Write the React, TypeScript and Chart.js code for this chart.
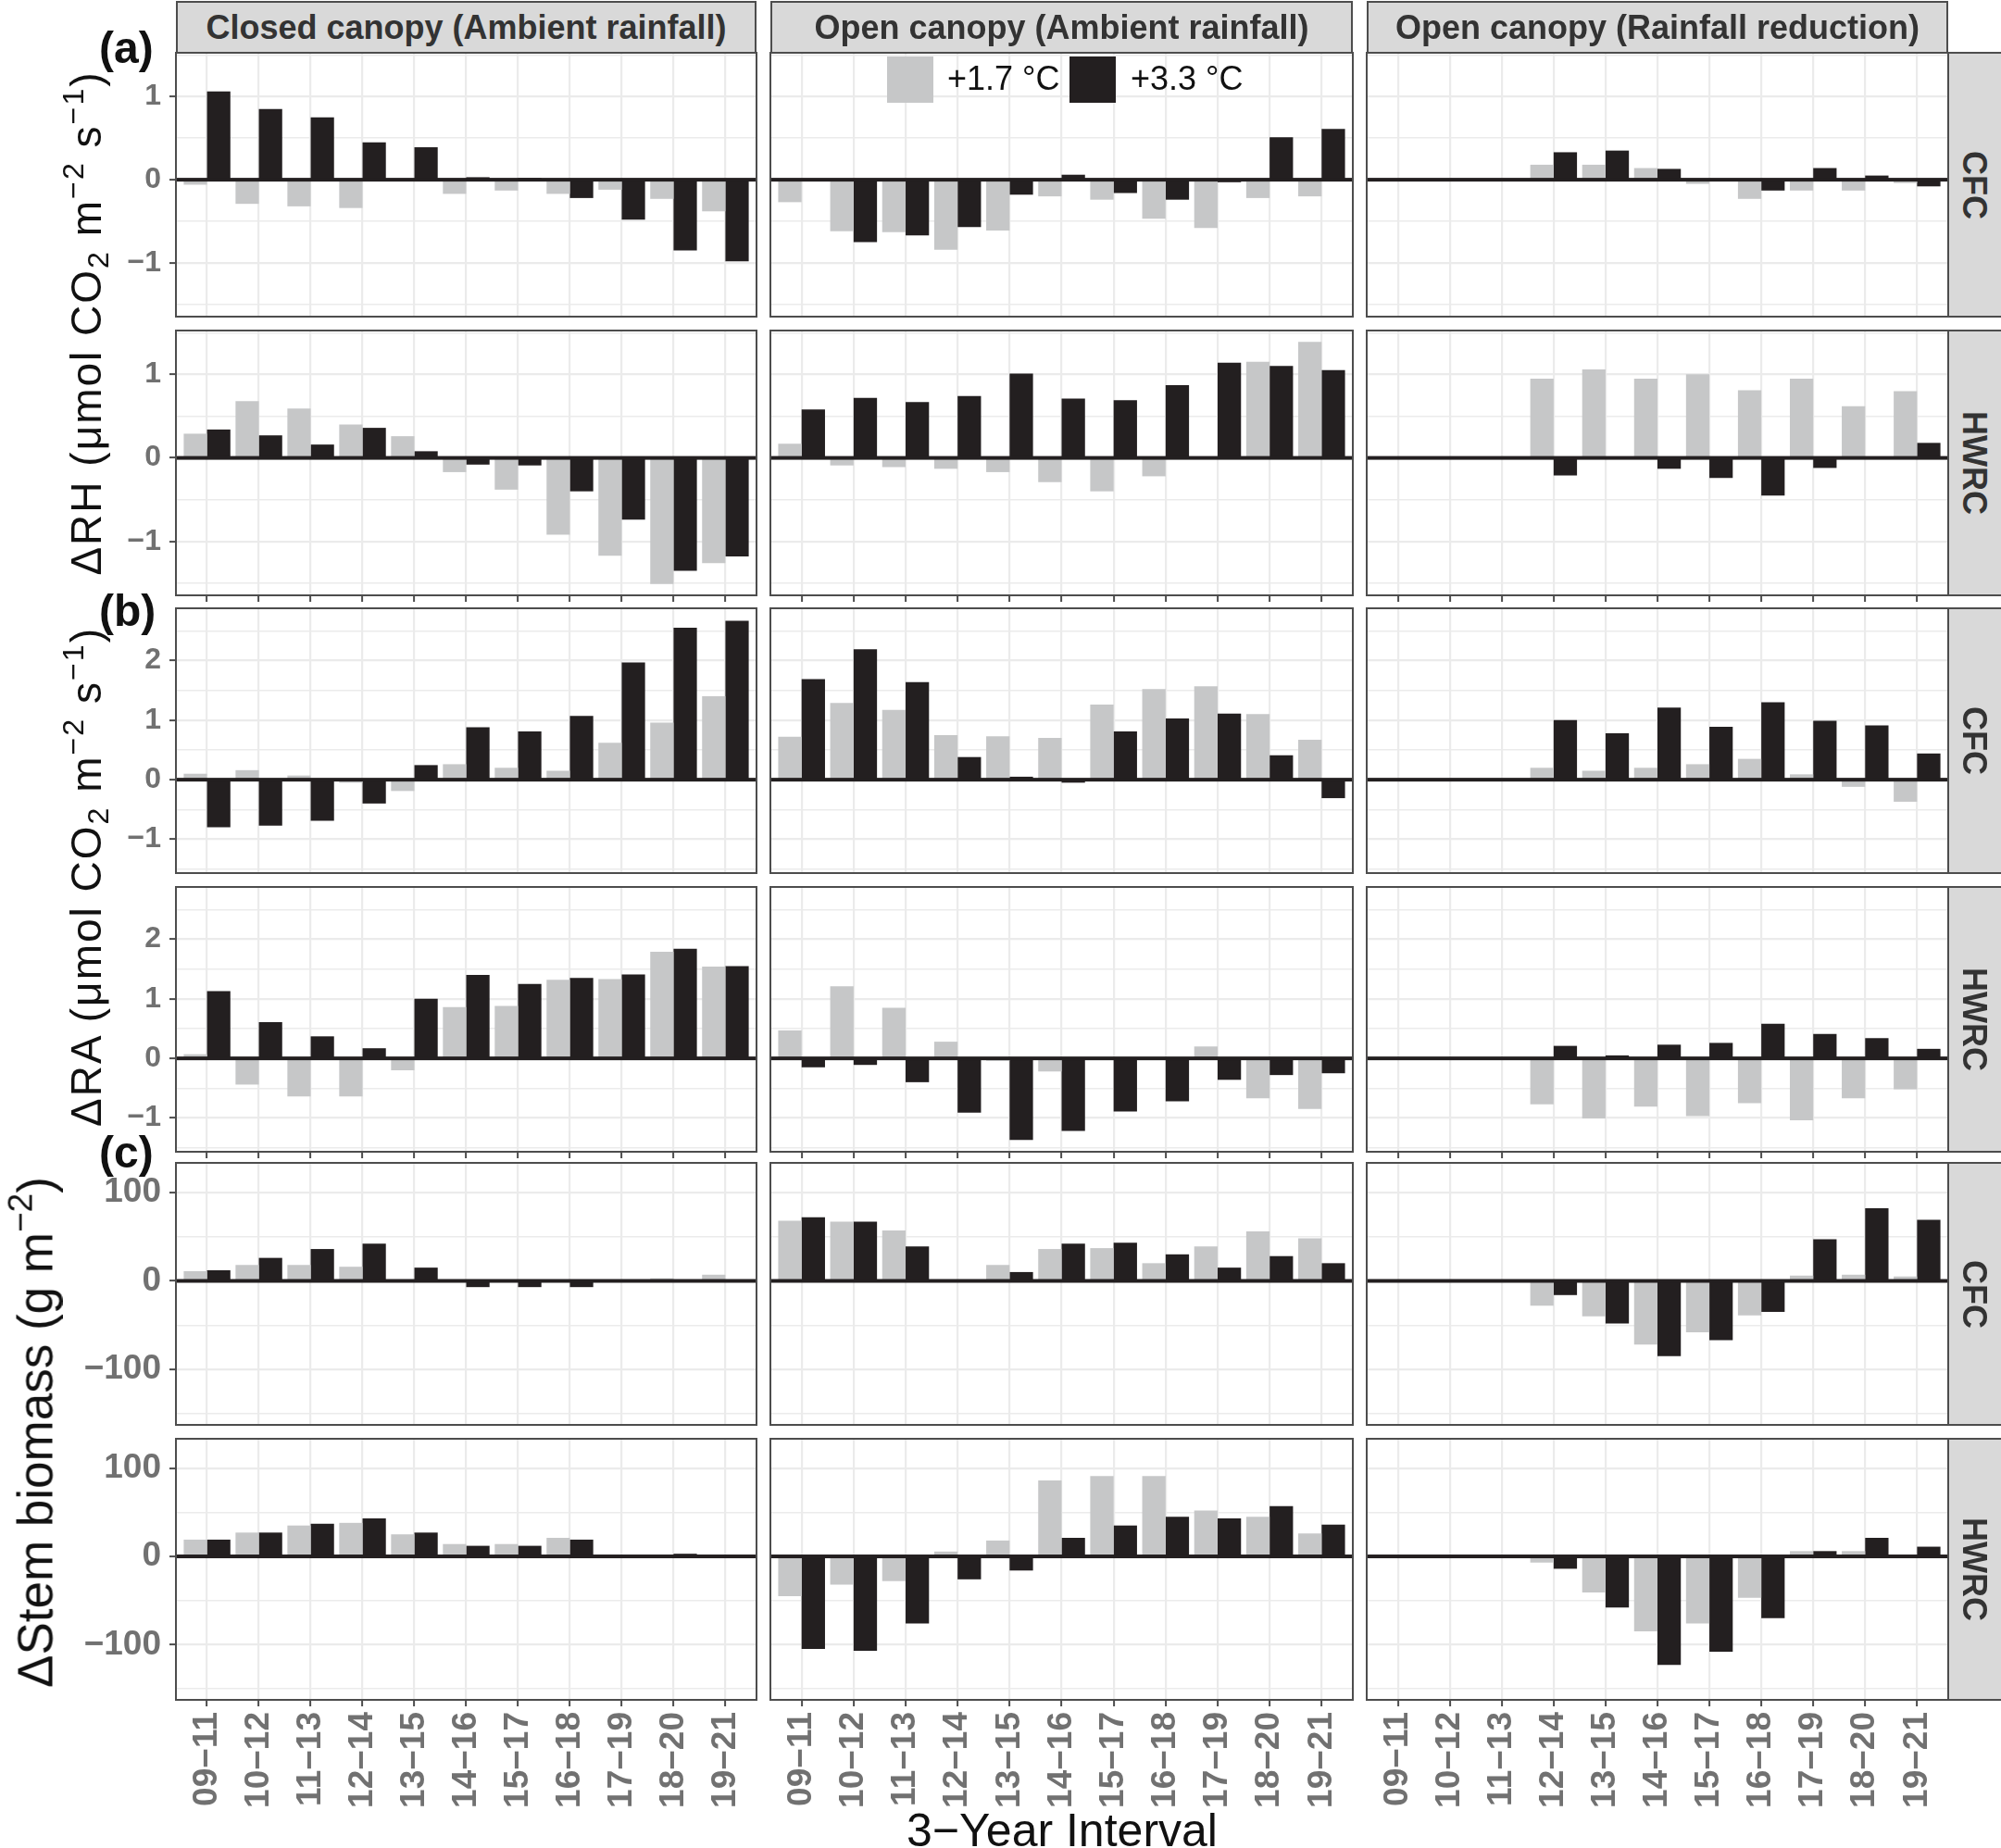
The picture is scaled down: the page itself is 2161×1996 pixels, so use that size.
import React, { useEffect, useRef } from "react";
import { Chart, registerables } from "chart.js";

Chart.register(...registerables);

const FONT = "'Liberation Sans', Arial, Helvetica, sans-serif";
const GREY = "#c6c7c8";
const BLACK = "#231f20";
const GRID = "#ebebeb";
const FRAME = "#4d4d4d";
const LABEL = "#717171";

// ---------- categories, labels ----------
const intervals = ["09−11", "10−12", "11−13", "12−14", "13−15", "14−16", "15−17", "16−18", "17−19", "18−20", "19−21"];
const columnTitles = ["Closed canopy (Ambient rainfall)", "Open canopy (Ambient rainfall)", "Open canopy (Rainfall reduction)"];
const rowStrips = ["CFC", "HWRC"];
const legendLabels = ["+1.7 °C", "+3.3 °C"];
const panelLetters = ["(a)", "(b)", "(c)"];
const xAxisTitle = "3−Year Interval";

// ---------- (a) ΔRH ----------
const rhCfcClosed17 = [-0.06, -0.29, -0.32, -0.34, -0.01, -0.17, -0.13, -0.17, -0.12, -0.23, -0.38];
const rhCfcClosed33 = [1.06, 0.85, 0.75, 0.45, 0.39, 0.03, 0.02, -0.22, -0.48, -0.85, -0.98];
const rhCfcOpen17 = [-0.27, -0.62, -0.63, -0.84, -0.61, -0.2, -0.24, -0.47, -0.58, -0.22, -0.2];
const rhCfcOpen33 = [-0.02, -0.75, -0.67, -0.57, -0.18, 0.06, -0.16, -0.24, -0.03, 0.51, 0.61];
const rhCfcReduced17 = [null, null, null, 0.18, 0.18, 0.14, -0.05, -0.23, -0.13, -0.13, -0.04];
const rhCfcReduced33 = [null, null, null, 0.33, 0.35, 0.13, 0.01, -0.13, 0.14, 0.05, -0.08];

const rhHwrcClosed17 = [0.29, 0.68, 0.59, 0.4, 0.26, -0.17, -0.38, -0.92, -1.17, -1.51, -1.26];
const rhHwrcClosed33 = [0.34, 0.27, 0.16, 0.36, 0.08, -0.08, -0.09, -0.4, -0.74, -1.35, -1.18];
const rhHwrcOpen17 = [0.17, -0.09, -0.11, -0.13, -0.17, -0.29, -0.4, -0.22, -0.01, 1.15, 1.39];
const rhHwrcOpen33 = [0.58, 0.72, 0.67, 0.74, 1.01, 0.71, 0.69, 0.87, 1.14, 1.1, 1.05];
const rhHwrcReduced17 = [null, null, null, 0.95, 1.06, 0.95, 1.0, 0.81, 0.95, 0.62, 0.8];
const rhHwrcReduced33 = [null, null, null, -0.21, -0.01, -0.13, -0.24, -0.45, -0.12, 0.0, 0.18];

// ---------- (b) ΔRA ----------
const raCfcClosed17 = [0.1, 0.16, 0.07, -0.05, -0.19, 0.26, 0.2, 0.15, 0.62, 0.96, 1.4];
const raCfcClosed33 = [-0.8, -0.77, -0.69, -0.4, 0.245, 0.88, 0.81, 1.07, 1.97, 2.55, 2.67];
const raCfcOpen17 = [0.72, 1.29, 1.17, 0.75, 0.73, 0.7, 1.26, 1.52, 1.57, 1.1, 0.67];
const raCfcOpen33 = [1.69, 2.19, 1.64, 0.38, 0.05, -0.05, 0.81, 1.03, 1.11, 0.41, -0.31];
const raCfcReduced17 = [null, null, null, 0.2, 0.15, 0.2, 0.26, 0.35, 0.09, -0.12, -0.37];
const raCfcReduced33 = [null, null, null, 1.0, 0.78, 1.21, 0.89, 1.3, 0.99, 0.91, 0.44];

const raHwrcClosed17 = [0.07, -0.44, -0.64, -0.64, -0.2, 0.86, 0.88, 1.32, 1.33, 1.79, 1.54];
const raHwrcClosed33 = [1.13, 0.61, 0.37, 0.17, 1.0, 1.4, 1.25, 1.35, 1.41, 1.84, 1.55];
const raHwrcOpen17 = [0.47, 1.21, 0.85, 0.28, -0.04, -0.22, 0.01, 0.01, 0.2, -0.67, -0.85];
const raHwrcOpen33 = [-0.15, -0.11, -0.4, -0.91, -1.37, -1.22, -0.89, -0.72, -0.36, -0.28, -0.25];
const raHwrcReduced17 = [null, null, null, -0.77, -1.01, -0.81, -0.97, -0.75, -1.04, -0.67, -0.52];
const raHwrcReduced33 = [null, null, null, 0.21, 0.05, 0.23, 0.26, 0.58, 0.41, 0.34, 0.16];

// ---------- (c) ΔStem biomass ----------
const stemCfcClosed17 = [11, 18, 18, 16, 1, -1, -1, -1, 0.5, 3, 7];
const stemCfcClosed33 = [12, 26, 36, 42, 15, -7, -7, -7, 1, 1, 1];
const stemCfcOpen17 = [68, 67, 57, 1, 18, 36, 37, 20, 39, 56, 48];
const stemCfcOpen33 = [72, 67, 39, 1.5, 10, 42, 43, 30, 15, 28, 20];
const stemCfcReduced17 = [null, null, null, -28, -40, -72, -58, -39, 6, 7, 5];
const stemCfcReduced33 = [null, null, null, -16, -48, -85, -67, -35, 47, 82, 69];

const stemHwrcClosed17 = [19, 27, 35, 38, 25, 14, 14, 21, 0.5, -1, -1];
const stemHwrcClosed33 = [19, 27, 37, 43, 27, 12, 12, 19, 1, 3, 1];
const stemHwrcOpen17 = [-45, -32, -28, 5.5, 18, 86, 91, 91, 52, 45, 26];
const stemHwrcOpen33 = [-105, -107, -76, -26, -16, 21, 35, 45, 43, 57, 36];
const stemHwrcReduced17 = [null, null, null, -7, -41, -85, -76, -47, 6, 6, 0.5];
const stemHwrcReduced33 = [null, null, null, -14, -58, -123, -108, -70, 6, 21, 11];

// ---------- y axes per block ----------
const rhRange = [-1.645, 1.525];
const rhGridValues = [-1.5, -1, -0.5, 0, 0.5, 1, 1.5];
const rhMajorStep = 1;
const raRange = [-1.568, 2.878];
const raGridValues = [-1.5, -1, -0.5, 0, 0.5, 1, 1.5, 2, 2.5];
const raMajorStep = 1;
const stemRange = [-162.6, 133.3];
const stemGridValues = [-150, -100, -50, 0, 50, 100];
const stemMajorStep = 100;

const blockAxes = [
  { range: rhRange, grid: rhGridValues, step: rhMajorStep, font: 32 },
  { range: raRange, grid: raGridValues, step: raMajorStep, font: 32 },
  { range: stemRange, grid: stemGridValues, step: stemMajorStep, font: 37 },
];

const panelSeries = [
  [[rhCfcClosed17, rhCfcClosed33], [rhCfcOpen17, rhCfcOpen33], [rhCfcReduced17, rhCfcReduced33]],
  [[rhHwrcClosed17, rhHwrcClosed33], [rhHwrcOpen17, rhHwrcOpen33], [rhHwrcReduced17, rhHwrcReduced33]],
  [[raCfcClosed17, raCfcClosed33], [raCfcOpen17, raCfcOpen33], [raCfcReduced17, raCfcReduced33]],
  [[raHwrcClosed17, raHwrcClosed33], [raHwrcOpen17, raHwrcOpen33], [raHwrcReduced17, raHwrcReduced33]],
  [[stemCfcClosed17, stemCfcClosed33], [stemCfcOpen17, stemCfcOpen33], [stemCfcReduced17, stemCfcReduced33]],
  [[stemHwrcClosed17, stemHwrcClosed33], [stemHwrcOpen17, stemHwrcOpen33], [stemHwrcReduced17, stemHwrcReduced33]],
];

// ---------- layout ----------
const colLeft = [190, 832, 1476];
const colRight = [817, 1461, 2104];
const rowTop = [57, 357, 657, 958, 1256, 1554];
const rowBottom = [342, 643, 943, 1244, 1539, 1836];
const PAD = 6;
const Y_AXIS_W = 140;
const X_LABEL_H = 150;

const fmt = (v: number) => (v < 0 ? "−" + Math.abs(v) : String(v));
const isMajor = (v: number, step: number) => Math.abs(v / step - Math.round(v / step)) < 1e-6;

const panelDecor = {
  id: "panelDecor",
  afterDatasetsDraw(chart: any) {
    const { ctx, chartArea: a, scales } = chart;
    const y0 = scales.y.getPixelForValue(0);
    ctx.save();
    ctx.fillStyle = BLACK;
    ctx.fillRect(a.left, y0 - 2, a.right - a.left, 4);
    ctx.strokeStyle = FRAME;
    ctx.lineWidth = 2;
    ctx.strokeRect(a.left, a.top, a.right - a.left, a.bottom - a.top);
    ctx.restore();
  },
};

function Panel({ row, col }: { row: number; col: number }) {
  const ref = useRef<HTMLCanvasElement>(null);
  const block = Math.floor(row / 2);
  const isLeft = col === 0;
  const bottomOfBlock = row % 2 === 1;
  const isLast = row === 5;
  const pw = colRight[col] - colLeft[col];
  const ph = rowBottom[row] - rowTop[row];
  const yW = isLeft ? Y_AXIS_W : 0;
  const padL = isLeft ? 0 : PAD;
  const xH = isLast ? X_LABEL_H : bottomOfBlock ? 10 : 0;
  const padB = isLast ? 0 : PAD;
  const W = padL + yW + pw + PAD;
  const H = PAD + ph + xH + padB;
  const left = colLeft[col] - yW - padL;
  const top = rowTop[row] - PAD;

  useEffect(() => {
    const axis = blockAxes[block];
    const [g, k] = panelSeries[row][col];
    const chart = new Chart(ref.current as HTMLCanvasElement, {
      type: "bar",
      data: {
        datasets: [
          {
            label: legendLabels[0],
            data: g.map((v, i) => ({ x: i + 1, y: v })) as any,
            backgroundColor: GREY,
            borderWidth: 0,
            categoryPercentage: 0.9,
            barPercentage: 1.0,
          },
          {
            label: legendLabels[1],
            data: k.map((v, i) => ({ x: i + 1, y: v })) as any,
            backgroundColor: BLACK,
            borderWidth: 0,
            categoryPercentage: 0.9,
            barPercentage: 1.0,
          },
        ],
      },
      options: {
        animation: false,
        responsive: false,
        maintainAspectRatio: false,
        layout: { padding: { left: padL, right: PAD, top: PAD, bottom: padB } },
        plugins: { legend: { display: false }, tooltip: { enabled: false } },
        scales: {
          x: {
            type: "linear",
            min: 0.4,
            max: 11.6,
            bounds: "data",
            offset: false,
            afterBuildTicks: (s: any) => {
              s.ticks = intervals.map((_, i) => ({ value: i + 1 }));
            },
            afterFit: (s: any) => {
              s.height = xH;
              s.paddingLeft = 0;
              s.paddingRight = 0;
              s.paddingTop = 0;
              s.paddingBottom = 0;
            },
            border: { display: false },
            grid: {
              offset: false,
              color: GRID,
              lineWidth: 2.2,
              drawTicks: bottomOfBlock,
              tickLength: 7,
              tickColor: FRAME,
              tickWidth: 2,
            },
            ticks: {
              display: isLast,
              autoSkip: false,
              minRotation: 90,
              maxRotation: 90,
              padding: 6,
              color: LABEL,
              font: { family: FONT, weight: "bold", size: 37 },
              callback: (v: any) => intervals[Math.round(Number(v)) - 1] ?? "",
            },
          } as any,
          y: {
            type: "linear",
            min: axis.range[0],
            max: axis.range[1],
            bounds: "data",
            afterBuildTicks: (s: any) => {
              s.ticks = axis.grid.map((v) => ({ value: v }));
            },
            afterFit: (s: any) => {
              s.width = yW;
              s.paddingLeft = 0;
              s.paddingRight = 0;
              s.paddingTop = 0;
              s.paddingBottom = 0;
            },
            border: { display: false },
            grid: {
              color: GRID,
              lineWidth: (c: any) => (c.tick && isMajor(c.tick.value, axis.step) ? 2.2 : 1.4),
              drawTicks: isLeft,
              tickLength: 7,
              tickColor: (c: any) => (c.tick && isMajor(c.tick.value, axis.step) ? FRAME : "rgba(0,0,0,0)"),
              tickWidth: 2,
            },
            ticks: {
              display: isLeft,
              autoSkip: false,
              padding: 9,
              color: LABEL,
              font: { family: FONT, weight: "bold", size: axis.font },
              callback: (v: any) => (isMajor(Number(v), axis.step) ? fmt(Number(v)) : ""),
            },
          } as any,
        },
      },
      plugins: [panelDecor],
    });
    return () => chart.destroy();
  }, []);

  return (
    <canvas
      ref={ref}
      width={W}
      height={H}
      style={{ position: "absolute", left, top, width: W, height: H }}
    />
  );
}

const supStyle: React.CSSProperties = { fontSize: "0.7em", verticalAlign: "0.6em", lineHeight: 0 };
const subStyle: React.CSSProperties = { fontSize: "0.7em", verticalAlign: "-0.25em", lineHeight: 0 };

function RotatedTitle({ cx, cy, size, spacing, children }: { cx: number; cy: number; size: number; spacing: number; children: any }) {
  return (
    <div
      style={{
        position: "absolute",
        left: cx,
        top: cy,
        transform: "translate(-50%, -50%) rotate(-90deg)",
        whiteSpace: "nowrap",
        fontSize: size,
        lineHeight: `${size}px`,
        letterSpacing: spacing,
        color: "#111",
      }}
    >
      {children}
    </div>
  );
}

export default function App() {
  const cells: any[] = [];
  for (let r = 0; r < 6; r++) for (let c = 0; c < 3; c++) cells.push(<Panel key={`${r}-${c}`} row={r} col={c} />);
  const fluxUnit = (
    <>
      (μmol CO<span style={subStyle}>2</span> m<span style={supStyle}>−2</span> s<span style={supStyle}>−1</span>)
    </>
  );
  return (
    <div
      style={{
        position: "absolute",
        left: 0,
        top: 0,
        width: 2161,
        height: 1996,
        overflow: "hidden",
        background: "#fff",
        fontFamily: FONT,
      }}
    >
      {cells}
      {columnTitles.map((t, c) => (
        <div
          key={t}
          style={{
            position: "absolute",
            left: colLeft[c],
            top: 1,
            width: colRight[c] - colLeft[c],
            height: 57,
            boxSizing: "border-box",
            border: `2px solid ${FRAME}`,
            background: "#d9d9d9",
            display: "flex",
            alignItems: "center",
            justifyContent: "center",
            fontWeight: "bold",
            fontSize: 36,
            lineHeight: "36px",
            color: "#333",
            whiteSpace: "nowrap",
          }}
        >
          {t}
        </div>
      ))}
      {rowTop.map((t, r) => (
        <div
          key={"s" + r}
          style={{
            position: "absolute",
            left: 2103,
            top: t - 1,
            width: 60,
            height: rowBottom[r] - t + 2,
            boxSizing: "border-box",
            border: `2px solid ${FRAME}`,
            background: "#d9d9d9",
            display: "flex",
            alignItems: "center",
            justifyContent: "center",
            fontWeight: "bold",
            fontSize: 36,
            color: "#333",
          }}
        >
          <span style={{ display: "inline-block", transform: "rotate(90deg)", whiteSpace: "nowrap", lineHeight: "36px", marginRight: 3 }}>
            {rowStrips[r % 2]}
          </span>
        </div>
      ))}
      {/* legend */}
      <div style={{ position: "absolute", left: 958, top: 61, width: 50, height: 50, background: GREY }} />
      <div style={{ position: "absolute", left: 1023, top: 67, fontSize: 36, lineHeight: "36px", color: "#111", whiteSpace: "nowrap" }}>
        {legendLabels[0]}
      </div>
      <div style={{ position: "absolute", left: 1155, top: 61, width: 50, height: 50, background: BLACK }} />
      <div style={{ position: "absolute", left: 1221, top: 67, fontSize: 36, lineHeight: "36px", color: "#111", whiteSpace: "nowrap" }}>
        {legendLabels[1]}
      </div>
      {/* y titles */}
      <RotatedTitle cx={93} cy={349} size={46} spacing={2}>
        ΔRH {fluxUnit}
      </RotatedTitle>
      <RotatedTitle cx={93} cy={947} size={46} spacing={2}>
        ΔRA {fluxUnit}
      </RotatedTitle>
      <RotatedTitle cx={38} cy={1547} size={53} spacing={0}>
        ΔStem biomass (g m<span style={supStyle}>−2</span>)
      </RotatedTitle>
      {/* panel letters */}
      {[28, 636, 1221].map((t, i) => (
        <div
          key={"l" + i}
          style={{ position: "absolute", left: 107, top: t, fontSize: 48, lineHeight: "48px", fontWeight: "bold", color: "#111" }}
        >
          {panelLetters[i]}
        </div>
      ))}
      <div
        style={{
          position: "absolute",
          left: 1147,
          top: 1952,
          transform: "translateX(-50%)",
          fontSize: 50,
          lineHeight: "50px",
          color: "#111",
          whiteSpace: "nowrap",
        }}
      >
        {xAxisTitle}
      </div>
    </div>
  );
}
